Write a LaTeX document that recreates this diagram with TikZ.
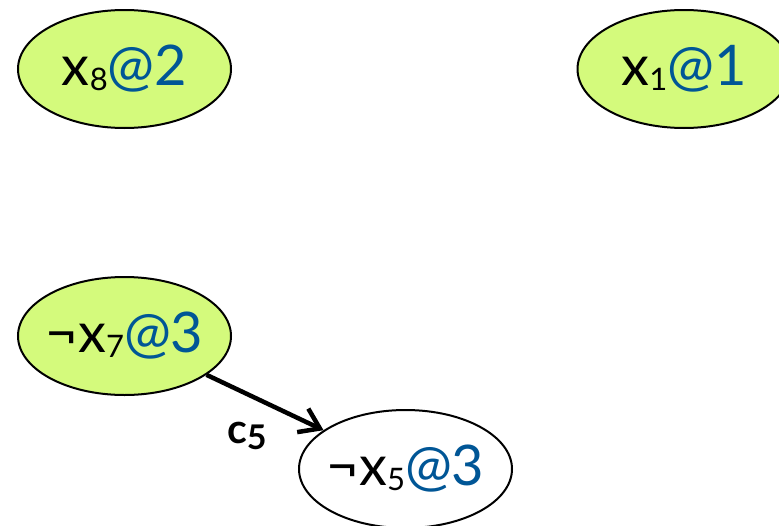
\documentclass[tikz,border=0pt]{standalone}
\usepackage{fontspec}
\setmainfont{Lato}
\usetikzlibrary{shapes.geometric,arrows.meta}
\definecolor{limefill}{RGB}{212,250,124}
\definecolor{atblue}{RGB}{0,86,150}
\newcommand{\subsc}[1]{\raisebox{-5pt}{\fontsize{31pt}{31pt}\selectfont #1}}
\newcommand{\lvl}[1]{\textcolor{atblue}{@#1}}
\newcommand{\litlabel}[1]{\makebox[0pt][c]{#1}}
\tikzset{
  lit/.style={ellipse, draw=black, line width=2pt, minimum width=213pt,
    minimum height=118pt, inner sep=0pt, font=\fontsize{56pt}{56pt}\selectfont},
  assigned/.style={lit, fill=limefill},
  implied/.style={lit, fill=white},
  impl/.style={line width=4.5pt, -{Straight Barb[length=19pt,width=26pt]}},
  clabel/.style={font=\fontsize{41pt}{41pt}\selectfont\bfseries, inner sep=0pt, anchor=base west}
}
\begin{document}
\begin{tikzpicture}[x=1pt,y=-1pt]
\clip (0,0) rectangle (779,525);
\node[assigned] (x8) at (124.5,69) {\litlabel{x\subsc{8}\lvl{2}}};
\node[assigned] (x1) at (684,69) {\litlabel{x\subsc{1}\lvl{1}}};
\node[assigned] (x7) at (124.5,336) {\litlabel{¬x\subsc{7}\lvl{3}}};
\node[implied] (x5) at (405.5,469) {\litlabel{¬x\subsc{5}\lvl{3}}};
\draw[impl] (x7) -- (x5);
\node[clabel] (c5) at (227,443) {c\raisebox{-6pt}{\fontsize{34pt}{34pt}\selectfont\bfseries 5}};
\end{tikzpicture}
\end{document}
